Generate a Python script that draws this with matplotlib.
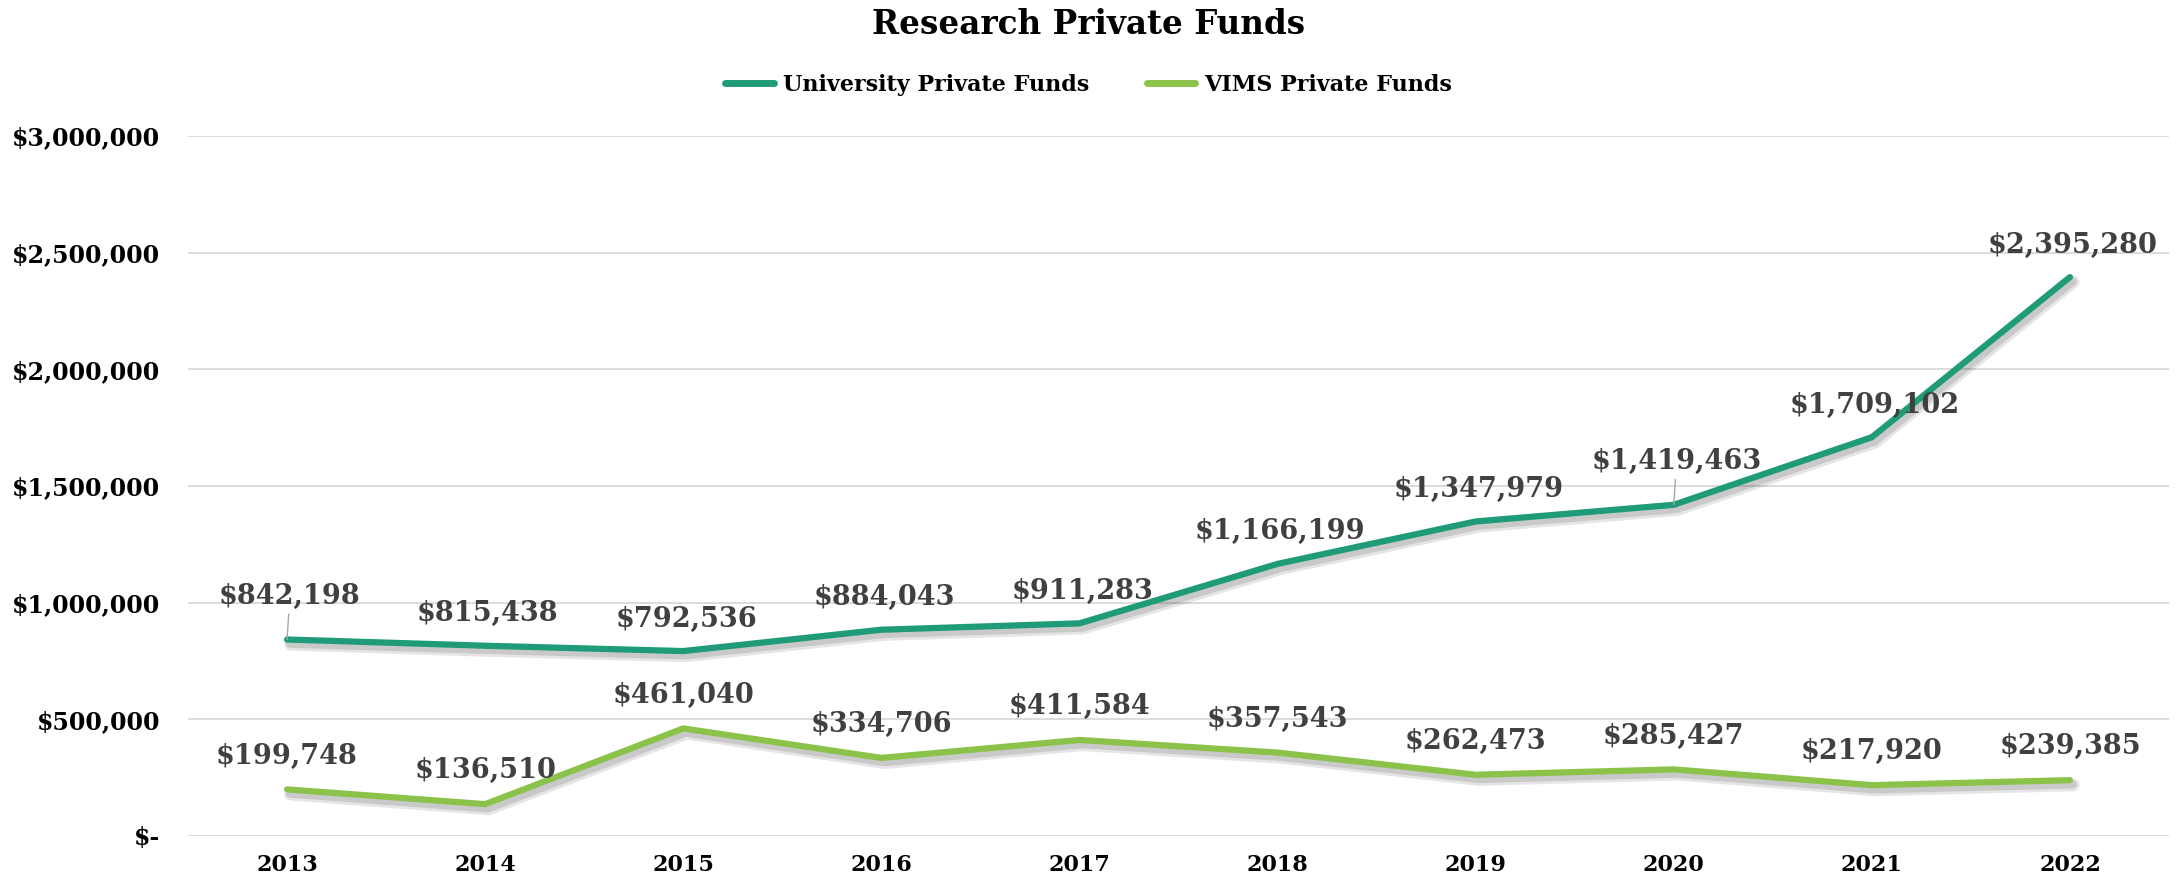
import matplotlib

matplotlib.use("Agg")
import matplotlib.pyplot as plt
import matplotlib.patheffects as pe
from matplotlib.ticker import FuncFormatter, MultipleLocator

plt.rcParams["font.family"] = ["DejaVu Serif"]
plt.rcParams["font.weight"] = "bold"

years = ["2013", "2014", "2015", "2016", "2017", "2018", "2019", "2020", "2021", "2022"]
university = [842198, 815438, 792536, 884043, 911283, 1166199, 1347979, 1419463, 1709102, 2395280]
vims = [199748, 136510, 461040, 334706, 411584, 357543, 262473, 285427, 217920, 239385]

UNI_COLOR = "#1f9c77"
VIMS_COLOR = "#8bc34a"
LABEL_COLOR = "#404040"


def money(v, _pos=None):
    return "$-" if v == 0 else f"${v:,.0f}"


def shadow():
    # soft drop shadow under the lines, a few stacked passes
    fx = [pe.SimpleLineShadow(offset=(2.5, -3.5), shadow_color="#000000", alpha=0.10, linewidth=9),
          pe.SimpleLineShadow(offset=(2.0, -3.0), shadow_color="#000000", alpha=0.12, linewidth=6),
          pe.Normal()]
    return fx


fig = plt.figure(figsize=(21.77, 8.81), dpi=100)
ax = fig.add_axes([188 / 2177, 45 / 881, (2169 - 188) / 2177, 700 / 881])

x = list(range(len(years)))
ax.plot(x, university, color=UNI_COLOR, lw=4.5, solid_capstyle="round",
        label="University Private Funds", path_effects=shadow(), zorder=3)
ax.plot(x, vims, color=VIMS_COLOR, lw=4.5, solid_capstyle="round",
        label="VIMS Private Funds", path_effects=shadow(), zorder=3)

# data labels; two of them sit higher with a leader line
lifted = {0: 31, 7: 31}
for i, v in enumerate(university):
    dy = lifted.get(i, 23)
    kw = {}
    if i in lifted:
        kw["arrowprops"] = dict(arrowstyle="-", color="#a6a6a6", lw=1.0, shrinkA=1, shrinkB=0)
    ax.annotate(money(v), (i, v), xytext=(2, dy), textcoords="offset points",
                ha="center", va="center", fontsize=19.5, color=LABEL_COLOR,
                fontweight="bold", zorder=4, **kw)
for i, v in enumerate(vims):
    ax.annotate(money(v), (i, v), xytext=(0, 24), textcoords="offset points",
                ha="center", va="center", fontsize=19.5, color=LABEL_COLOR,
                fontweight="bold", zorder=4)

ax.set_xlim(-0.5, len(years) - 0.5)
ax.set_ylim(0, 3000000)
ax.yaxis.set_major_locator(MultipleLocator(500000))
ax.yaxis.set_major_formatter(FuncFormatter(money))
ax.set_xticks(x)
ax.set_xticklabels(years)
ax.grid(axis="y", color="#d9d9d9", lw=1.3)
ax.set_axisbelow(True)
for s in ax.spines.values():
    s.set_visible(False)
ax.tick_params(axis="y", length=0, pad=20, labelsize=17)
ax.tick_params(axis="x", length=0, pad=13, labelsize=16)
for t in ax.get_xticklabels() + ax.get_yticklabels():
    t.set_fontweight("bold")

fig.text(0.5, 1 - 25 / 881, "Research Private Funds", ha="center", va="center",
         fontsize=23.5, fontweight="bold")
leg = fig.legend(loc="center", bbox_to_anchor=(0.5, 1 - 85 / 881), ncol=2, frameon=False,
                 fontsize=16, handlelength=2.2, columnspacing=2.6, handletextpad=0.4)
for h in leg.get_lines():
    h.set_linewidth(5)
    h.set_path_effects([])

fig.savefig("out.png", dpi=100)
